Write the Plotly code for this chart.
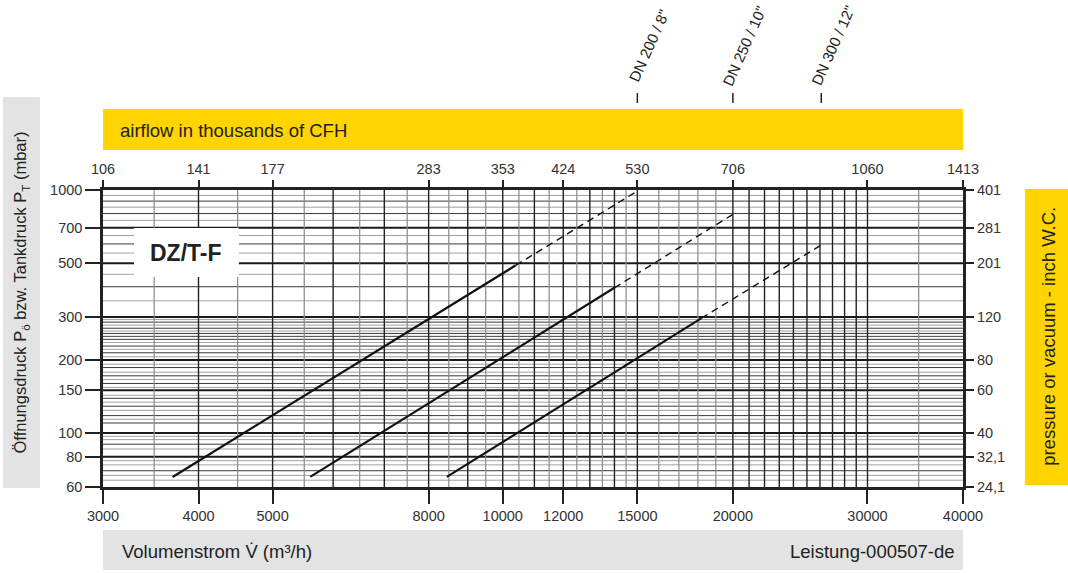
import numpy as np
import plotly.graph_objects as go

# ---------------- data ----------------
flow_ticks = [3000, 4000, 5000, 8000, 10000, 12000, 15000, 20000, 30000, 40000]
flow_labels = ["3000", "4000", "5000", "8000", "10000", "12000", "15000", "20000", "30000", "40000"]
cfh_labels = ["106", "141", "177", "283", "353", "424", "530", "706", "1060", "1413"]

mbar_ticks = [60, 80, 100, 150, 200, 300, 500, 700, 1000]
mbar_labels = ["60", "80", "100", "150", "200", "300", "500", "700", "1000"]
inch_labels = ["24,1", "32,1", "40", "60", "80", "120", "201", "281", "401"]

v_grid_dark = [4000, 5000, 6000, 7000, 8000, 9000, 10000, 11000, 12000, 13000, 14000, 15000,
               20000, 21000, 22000, 23000, 24000, 25000, 26000, 27000, 28000, 29000, 30000]
v_grid_gray = [3500, 4500, 5500, 6500, 7500, 8500, 9500, 10500, 11500, 12500, 13500, 14500,
               16000, 17000, 18000, 19000, 35000]

h_grid_major = [80, 100, 150, 200, 300, 500, 700]
h_grid_dark = [900, 800, 600, 400, 286, 270, 257, 250, 243, 228, 214, 186, 172, 160,
               139, 129, 118, 110, 90, 70]
h_grid_gray = [950, 850, 750, 650, 550, 450, 350, 293, 278, 263, 236, 221, 206, 192, 178,
               166, 154, 143, 134, 124, 114, 97, 94, 86, 77, 74, 67, 64]

dn_names = ['DN 200 / 8"', 'DN 250 / 10"', 'DN 300 / 12"']
dn_solid_flow = [[3700, 10400], [5600, 14000], [8450, 18200]]
dn_solid_p = [[66, 490], [66, 396], [66, 297]]
dn_dash_flow = [[10400, 15000], [14000, 20000], [18200, 26100]]
dn_dash_p = [[490, 990], [396, 794], [297, 594]]
dn_label_flow = [15000, 20000, 26100]

X_RANGE = [3000, 40000]
Y_RANGE = [60, 1000]

FONT = "Liberation Sans, Arial, sans-serif"
YELLOW = "#FFD400"
GRAYBAR = "#E3E3E3"


def seg_vertical(vals):
    xs, ys = [], []
    for v in vals:
        xs += [v, v, None]
        ys += [Y_RANGE[0], Y_RANGE[1], None]
    return xs, ys


def seg_horizontal(vals):
    xs, ys = [], []
    for v in vals:
        xs += [X_RANGE[0], X_RANGE[1], None]
        ys += [v, v, None]
    return xs, ys


fig = go.Figure()

for vals, color, width in [(h_grid_gray, "#a0a0a0", 1.0), (h_grid_dark, "#3a3a3a", 1.0),
                           (h_grid_major, "#1a1a1a", 2.0)]:
    xs, ys = seg_horizontal(vals)
    fig.add_trace(go.Scatter(x=xs, y=ys, mode="lines", line=dict(color=color, width=width),
                             hoverinfo="skip", showlegend=False))

for vals, color, width in [(v_grid_gray, "#8a8a8a", 1.2), (v_grid_dark, "#222222", 1.4)]:
    xs, ys = seg_vertical(vals)
    fig.add_trace(go.Scatter(x=xs, y=ys, mode="lines", line=dict(color=color, width=width),
                             hoverinfo="skip", showlegend=False))

for i in range(len(dn_names)):
    fig.add_trace(go.Scatter(x=dn_solid_flow[i], y=dn_solid_p[i], mode="lines",
                             line=dict(color="#111111", width=2.2), showlegend=False,
                             name=dn_names[i]))
    fig.add_trace(go.Scatter(x=dn_dash_flow[i], y=dn_dash_p[i], mode="lines",
                             line=dict(color="#111111", width=1.4, dash="7px,5px"),
                             showlegend=False, name=dn_names[i]))

# invisible trace to activate secondary axes
fig.add_trace(go.Scatter(x=X_RANGE, y=Y_RANGE, xaxis="x2", yaxis="y2", mode="lines",
                         line=dict(width=0), opacity=0, hoverinfo="skip", showlegend=False))

tickfont = dict(family=FONT, size=14.5, color="#333333")
log_x = [np.log10(X_RANGE[0]), np.log10(X_RANGE[1])]
log_y = [np.log10(Y_RANGE[0]), np.log10(Y_RANGE[1])]

fig.update_layout(
    width=1068, height=573,
    margin=dict(l=103, r=105, t=190, b=86),
    paper_bgcolor="white", plot_bgcolor="white",
    font=dict(family=FONT, color="#222222"),
    xaxis=dict(type="log", range=log_x, tickvals=flow_ticks, ticktext=flow_labels,
               ticks="outside", ticklen=14, tickwidth=1.6, tickcolor="#222222",
               showgrid=False, zeroline=False, showline=True, linewidth=2.5,
               linecolor="#222222", mirror=True, tickfont=tickfont),
    xaxis2=dict(type="log", range=log_x, tickvals=flow_ticks, ticktext=cfh_labels,
                overlaying="x", side="top", anchor="y", ticks="outside", ticklen=9,
                tickwidth=1.6, tickcolor="#222222", showgrid=False, zeroline=False,
                showline=False, tickfont=tickfont),
    yaxis=dict(type="log", range=log_y, tickvals=mbar_ticks, ticktext=mbar_labels,
               ticks="outside", ticklen=15, tickwidth=1.6, tickcolor="#222222",
               showgrid=False, zeroline=False, showline=True, linewidth=2.5,
               linecolor="#222222", mirror=True, tickfont=tickfont),
    yaxis2=dict(type="log", range=log_y, tickvals=mbar_ticks, ticktext=inch_labels,
                overlaying="y", side="right", anchor="x", ticks="outside", ticklen=10,
                tickwidth=1.6, tickcolor="#222222", showgrid=False, zeroline=False,
                showline=False, tickfont=tickfont),
)

shapes = [
    # top yellow bar
    dict(type="rect", xref="paper", yref="paper", x0=0, x1=1, y0=1.1347, y1=1.2727,
         fillcolor=YELLOW, line=dict(width=0), layer="below"),
    # right yellow bar
    dict(type="rect", xref="paper", yref="paper", x0=1.072, x1=1.125, y0=0.007, y1=1.003,
         fillcolor=YELLOW, line=dict(width=0), layer="below"),
    # left gray bar
    dict(type="rect", xref="paper", yref="paper", x0=-0.1163, x1=-0.0733, y0=-0.003, y1=1.313,
         fillcolor=GRAYBAR, line=dict(width=0), layer="below"),
    # bottom gray bar
    dict(type="rect", xref="paper", yref="paper", x0=0, x1=1, y0=-0.2795, y1=-0.1448,
         fillcolor=GRAYBAR, line=dict(width=0), layer="below"),
    # DZ/T-F white box
    dict(type="rect", xref="paper", yref="paper", x0=0.036, x1=0.158, y0=0.707, y1=0.872,
         fillcolor="white", line=dict(width=0), layer="above"),
]
for f in dn_label_flow:
    shapes.append(dict(type="line", xref="x", yref="paper", x0=f, x1=f, y0=1.293, y1=1.3266,
                       line=dict(color="#222222", width=1.5)))
fig.update_layout(shapes=shapes)

annotations = [
    dict(text="airflow in thousands of CFH", xref="paper", yref="paper", x=0.0174, y=1.202,
         xanchor="left", yanchor="middle", showarrow=False,
         font=dict(family=FONT, size=18.5, color="#222222")),
    dict(text="pressure or vacuum - inch W.C.", xref="paper", yref="paper", x=1.0985, y=0.508,
         xanchor="center", yanchor="middle", showarrow=False, textangle=-90,
         font=dict(family=FONT, size=18.5, color="#222222")),
    dict(text="Öffnungsdruck P<sub>ö</sub> bzw. Tankdruck P<sub>T</sub> (mbar)", xref="paper",
         yref="paper", x=-0.0948, y=0.6566, xanchor="center", yanchor="middle",
         showarrow=False, textangle=-90, font=dict(family=FONT, size=16.5, color="#222222")),
    dict(text="Volumenstrom V\u0307 (m³/h)", xref="paper", yref="paper", x=0.0198, y=-0.2155,
         xanchor="left", yanchor="middle", showarrow=False,
         font=dict(family=FONT, size=18.5, color="#222222")),
    dict(text="Leistung-000507-de", xref="paper", yref="paper", x=0.993, y=-0.2155,
         xanchor="right", yanchor="middle", showarrow=False,
         font=dict(family=FONT, size=18.5, color="#222222")),
    dict(text="<b>DZ/T-F</b>", xref="paper", yref="paper", x=0.0965, y=0.788,
         xanchor="center", yanchor="middle", showarrow=False,
         font=dict(family=FONT, size=23, color="#222222")),
]
for name, f in zip(dn_names, dn_label_flow):
    annotations.append(dict(text=name, xref="x", yref="paper", x=np.log10(f), y=1.485,
                            xanchor="center", yanchor="middle", xshift=12, showarrow=False,
                            textangle=-66, font=dict(family=FONT, size=15, color="#222222")))
fig.update_layout(annotations=annotations)

fig.write_html("out.html", config={"displayModeBar": False},
               post_script="document.body.style.margin='0px';")
